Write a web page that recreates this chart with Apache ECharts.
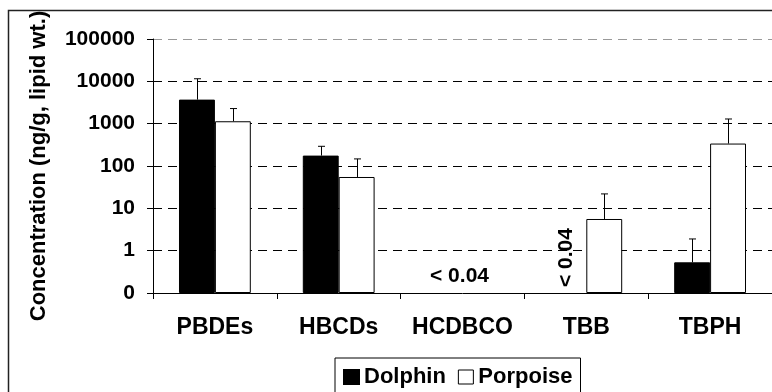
<!DOCTYPE html>
<html>
<head>
<meta charset="utf-8">
<script src="https://cdn.jsdelivr.net/npm/echarts@6/dist/echarts.min.js"></script>
<style>html,body{margin:0;padding:0;background:#fff;}#c{width:772px;height:392px;}</style>
</head>
<body>
<div id="c"></div>
<script>
const categories = ['PBDEs', 'HBCDs', 'HCDBCO', 'TBB', 'TBPH'];
const dolphin = [3700, 176, null, null, 0.53];
const dolphinUpper = [11500, 292, null, null, 1.89];
const porpoise = [1140, 55, null, 5.6, 339];
const porpoiseUpper = [2275, 147, null, 21.9, 1290];
const yTickValues = [0.1, 1, 10, 100, 1000, 10000, 100000];
const yTickLabels = ['0', '1', '10', '100', '1000', '10000', '100000'];
const annotCats = ['HCDBCO', 'TBB'];
const annotTexts = ['< 0.04', '< 0.04'];

const FONT = '"Liberation Sans", Arial, sans-serif';
const BAR_FRAC = 0.29;

function errData(means, uppers, side) {
  const out = [];
  means.forEach((m, i) => { if (m != null) out.push([i, m, uppers[i], side]); });
  return out;
}

const chart = echarts.init(document.getElementById('c'), null, {renderer: 'canvas'});
chart.setOption({
  animation: false,
  backgroundColor: '#fff',
  graphic: [{
    type: 'rect', z: -10, silent: true,
    shape: {x: 8.5, y: 10.5, width: 900, height: 500},
    style: {fill: 'none', stroke: '#222', lineWidth: 1.5}
  }],
  grid: {left: 153, top: 39, width: 621, height: 254, containLabel: false},
  legend: {
    data: [
      {name: 'Dolphin', itemStyle: {color: '#000'}},
      {name: 'Porpoise', itemStyle: {color: '#fff', borderColor: '#000', borderWidth: 1}}
    ],
    left: 335, top: 358,
    icon: 'rect', itemWidth: 15, itemHeight: 14, itemGap: 12,
    borderColor: '#000', borderWidth: 1, padding: [8, 8, 14, 8],
    textStyle: {fontFamily: FONT, fontWeight: 'bold', fontSize: 22, color: '#000'}
  },
  xAxis: {
    type: 'category', data: categories, boundaryGap: true,
    axisLine: {lineStyle: {color: '#000', width: 1}},
    axisTick: {show: true, length: 6, interval: 0, lineStyle: {color: '#000'}},
    axisLabel: {interval: 0, margin: 23, fontFamily: FONT, fontWeight: 'bold', fontSize: 23, color: '#000'},
    splitLine: {show: false}
  },
  yAxis: {
    type: 'log', logBase: 10, min: 0.1, max: 100000, startValue: 0.1,
    name: 'Concentration (ng/g, lipid wt.)', nameLocation: 'middle', nameRotate: 90, nameGap: 103,
    nameTextStyle: {fontFamily: FONT, fontWeight: 'bold', fontSize: 22, color: '#000'},
    axisLine: {show: true, lineStyle: {color: '#000', width: 1}},
    axisTick: {show: true, length: 6, lineStyle: {color: '#000'}},
    axisLabel: {
      margin: 18, fontFamily: FONT, fontWeight: 'bold', fontSize: 21, color: '#000',
      formatter: function (v) {
        for (let i = 0; i < yTickValues.length; i++) {
          if (Math.abs(Math.log10(v) - Math.log10(yTickValues[i])) < 1e-6) return yTickLabels[i];
        }
        return '';
      }
    },
    splitLine: {show: true, lineStyle: {color: ['#000', '#000', '#000', '#000', '#000', '#000', '#999'], type: [9, 6], width: 1}}
  },
  series: [
    {
      name: 'Dolphin', type: 'bar', data: dolphin, barWidth: (BAR_FRAC * 100) + '%', barGap: '0%',
      itemStyle: {color: '#000', borderColor: '#000', borderWidth: 1}
    },
    {
      name: 'Porpoise', type: 'bar', data: porpoise, barWidth: (BAR_FRAC * 100) + '%', barGap: '0%',
      itemStyle: {color: '#fff', borderColor: '#000', borderWidth: 1}
    },
    {
      name: 'errors', type: 'custom', z: 5,
      data: errData(dolphin, dolphinUpper, -1).concat(errData(porpoise, porpoiseUpper, 1)),
      renderItem: function (params, api) {
        const idx = api.value(0), mean = api.value(1), up = api.value(2), side = api.value(3);
        const band = api.size([1, 1])[0];
        const p0 = api.coord([idx, mean]);
        const p1 = api.coord([idx, up]);
        const x = Math.round(p0[0] + side * band * BAR_FRAC / 2) + 0.5;
        return {
          type: 'group',
          children: [
            {type: 'line', shape: {x1: x, y1: p0[1], x2: x, y2: p1[1]}, style: {stroke: '#000', lineWidth: 1}},
            {type: 'line', shape: {x1: x - 3.5, y1: p1[1], x2: x + 3.5, y2: p1[1]}, style: {stroke: '#000', lineWidth: 1}}
          ]
        };
      }
    },
    {
      name: 'notes', type: 'custom', z: 6,
      data: [[categories.indexOf(annotCats[0]), 0, 0], [categories.indexOf(annotCats[1]), 1, -1]],
      renderItem: function (params, api) {
        const idx = api.value(0), k = api.value(1), side = api.value(2);
        const band = api.size([1, 1])[0];
        const p = api.coord([idx, 0.1]);
        const x = p[0] + side * band * BAR_FRAC / 2;
        const font = 'bold 21px ' + FONT;
        if (side === 0) {
          return {type: 'text', x: x - 3, y: p[1] - 6,
            style: {text: annotTexts[k], font: font, fill: '#000', align: 'center', verticalAlign: 'bottom'}};
        }
        return {type: 'text', x: x - 2, y: p[1] - 6, rotation: Math.PI / 2,
          style: {text: annotTexts[k], font: font, fill: '#000', align: 'left', verticalAlign: 'middle'}};
      }
    }
  ]
});
</script>
</body>
</html>
